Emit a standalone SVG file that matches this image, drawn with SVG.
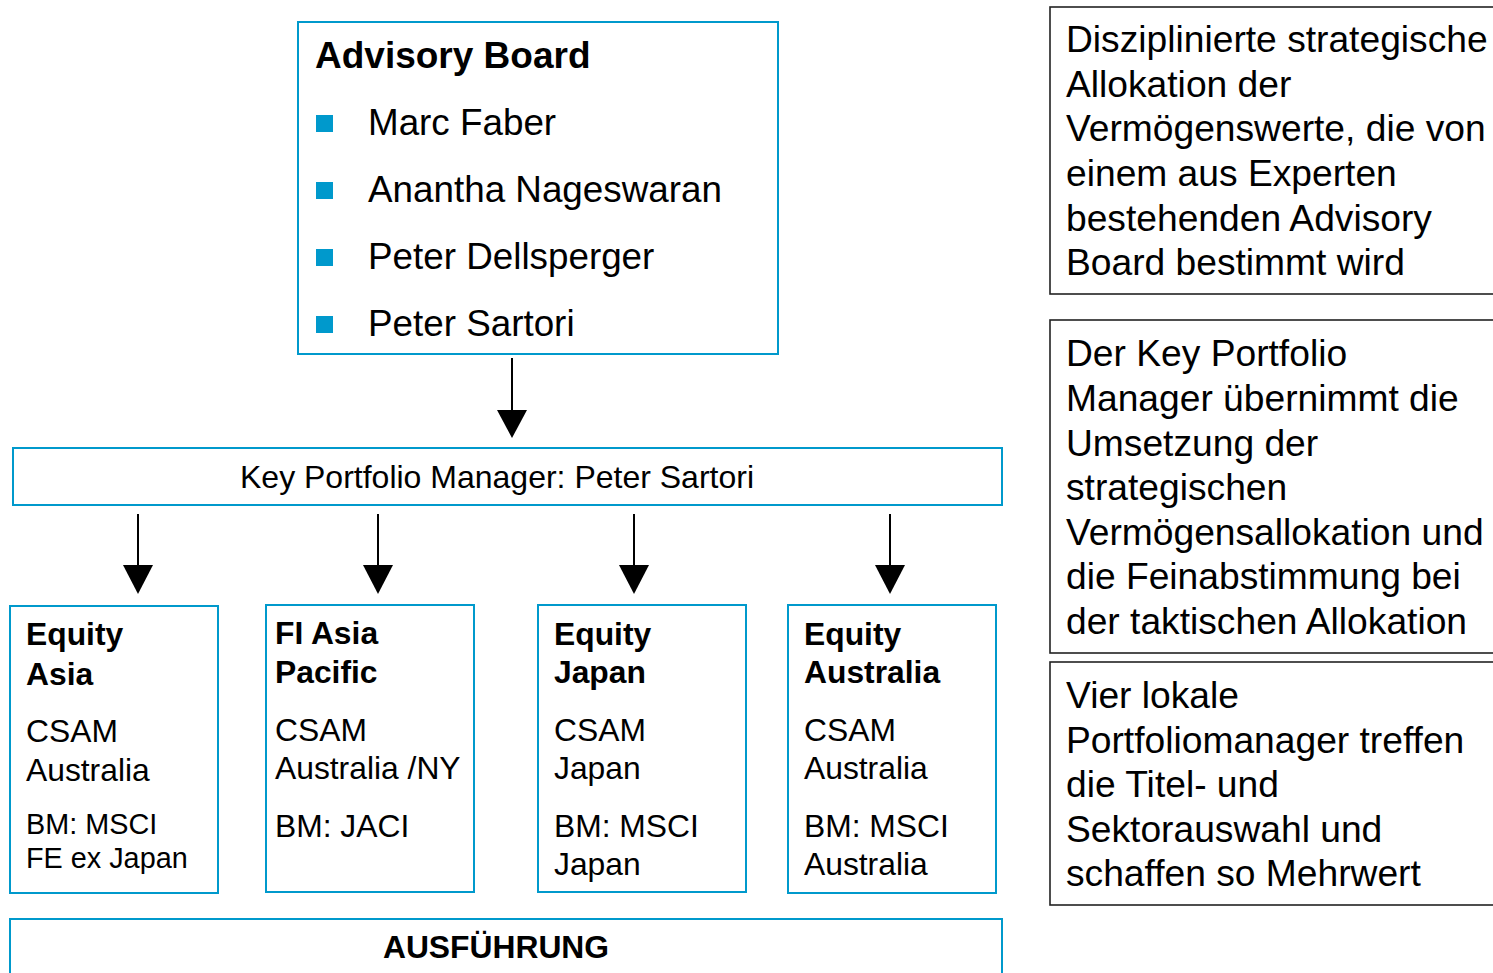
<svg xmlns="http://www.w3.org/2000/svg" width="1493" height="973" viewBox="0 0 1493 973">
  <defs>
    <style>
      text { font-family: "Liberation Sans", Arial, sans-serif; fill: #000; }
      .bluebox { fill: #fff; stroke: #0099cc; stroke-width: 2; }
      .note { fill: #fff; stroke: #222; stroke-width: 1.6; }
      .bullet { fill: #0099cc; }
      .b { font-weight: bold; }
      .h1 { font-size: 37px; }
      .name { font-size: 36.8px; }
      .kpm { font-size: 32px; }
      .t { font-size: 31.8px; }
      .s { font-size: 28.8px; }
      .nt { font-size: 37.2px; }
      .conn line { stroke: #000; stroke-width: 2; }
      .conn polygon { fill: #000; }
    </style>
  </defs>
  <rect width="1493" height="973" fill="#fff"/>

  <!-- Advisory board -->
  <g id="advisory-board">
    <rect class="bluebox" x="298" y="22" width="480" height="332"/>
    <text class="b h1" x="315" y="68">Advisory Board</text>
    <rect class="bullet" x="316" y="115" width="17" height="17"/>
    <text class="name" x="368" y="135">Marc Faber</text>
    <rect class="bullet" x="316" y="182" width="17" height="17"/>
    <text class="name" x="368" y="202">Anantha Nageswaran</text>
    <rect class="bullet" x="316" y="249" width="17" height="17"/>
    <text class="name" x="368" y="269">Peter Dellsperger</text>
    <rect class="bullet" x="316" y="316" width="17" height="17"/>
    <text class="name" x="368" y="336">Peter Sartori</text>
  </g>

  <!-- Key portfolio manager -->
  <g id="key-portfolio-manager">
    <rect class="bluebox" x="13" y="448" width="989" height="57"/>
    <text class="kpm" x="497" y="488" text-anchor="middle">Key Portfolio Manager: Peter Sartori</text>
  </g>

  <!-- Regional teams -->
  <g id="equity-asia">
    <rect class="bluebox" x="10" y="606" width="208" height="287"/>
    <text class="b t" x="26" y="645">Equity</text>
    <text class="b t" x="26" y="685">Asia</text>
    <text class="t" x="26" y="742">CSAM</text>
    <text class="t" x="26" y="781">Australia</text>
    <text class="s" x="26" y="834">BM: MSCI</text>
    <text class="s" x="26" y="868">FE ex Japan</text>
  </g>
  <g id="fi-asia-pacific">
    <rect class="bluebox" x="266" y="605" width="208" height="287"/>
    <text class="b t" x="275" y="644">FI Asia</text>
    <text class="b t" x="275" y="683">Pacific</text>
    <text class="t" x="275" y="741">CSAM</text>
    <text class="t" x="275" y="779">Australia /NY</text>
    <text class="t" x="275" y="837">BM: JACI</text>
  </g>
  <g id="equity-japan">
    <rect class="bluebox" x="538" y="605" width="208" height="287"/>
    <text class="b t" x="554" y="645">Equity</text>
    <text class="b t" x="554" y="683">Japan</text>
    <text class="t" x="554" y="741">CSAM</text>
    <text class="t" x="554" y="779">Japan</text>
    <text class="t" x="554" y="837">BM: MSCI</text>
    <text class="t" x="554" y="875">Japan</text>
  </g>
  <g id="equity-australia">
    <rect class="bluebox" x="788" y="605" width="208" height="288"/>
    <text class="b t" x="804" y="645">Equity</text>
    <text class="b t" x="804" y="683">Australia</text>
    <text class="t" x="804" y="741">CSAM</text>
    <text class="t" x="804" y="779">Australia</text>
    <text class="t" x="804" y="837">BM: MSCI</text>
    <text class="t" x="804" y="875">Australia</text>
  </g>

  <!-- Execution bar (runs off the bottom edge) -->
  <g id="ausfuehrung">
    <rect class="bluebox" x="10" y="919" width="992" height="80"/>
    <text class="b t" x="496" y="958" text-anchor="middle">AUSFÜHRUNG</text>
  </g>

  <!-- Explanatory notes -->
  <g id="note-strategy">
    <rect class="note" x="1050" y="7" width="460" height="287"/>
    <text class="nt" x="1066" y="52">Disziplinierte strategische</text>
    <text class="nt" x="1066" y="97">Allokation der</text>
    <text class="nt" x="1066" y="141">Vermögenswerte, die von</text>
    <text class="nt" x="1066" y="186">einem aus Experten</text>
    <text class="nt" x="1066" y="231">bestehenden Advisory</text>
    <text class="nt" x="1066" y="275">Board bestimmt wird</text>
  </g>
  <g id="note-kpm">
    <rect class="note" x="1050" y="320" width="460" height="333"/>
    <text class="nt" x="1066" y="366">Der Key Portfolio</text>
    <text class="nt" x="1066" y="411">Manager übernimmt die</text>
    <text class="nt" x="1066" y="456">Umsetzung der</text>
    <text class="nt" x="1066" y="500">strategischen</text>
    <text class="nt" x="1066" y="545">Vermögensallokation und</text>
    <text class="nt" x="1066" y="589">die Feinabstimmung bei</text>
    <text class="nt" x="1066" y="634">der taktischen Allokation</text>
  </g>
  <g id="note-local">
    <rect class="note" x="1050" y="662" width="460" height="243"/>
    <text class="nt" x="1066" y="708">Vier lokale</text>
    <text class="nt" x="1066" y="753">Portfoliomanager treffen</text>
    <text class="nt" x="1066" y="797">die Titel- und</text>
    <text class="nt" x="1066" y="842">Sektorauswahl und</text>
    <text class="nt" x="1066" y="886">schaffen so Mehrwert</text>
  </g>

  <!-- Connectors -->
  <g id="connectors" class="conn">
    <line x1="512" y1="358" x2="512" y2="412"/>
    <polygon points="497,410 527,410 512,438"/>
    <line x1="138" y1="514" x2="138" y2="567"/>
    <polygon points="123,565 153,565 138,594"/>
    <line x1="378" y1="514" x2="378" y2="567"/>
    <polygon points="363,565 393,565 378,594"/>
    <line x1="634" y1="514" x2="634" y2="567"/>
    <polygon points="619,565 649,565 634,594"/>
    <line x1="890" y1="514" x2="890" y2="567"/>
    <polygon points="875,565 905,565 890,594"/>
  </g>
</svg>
